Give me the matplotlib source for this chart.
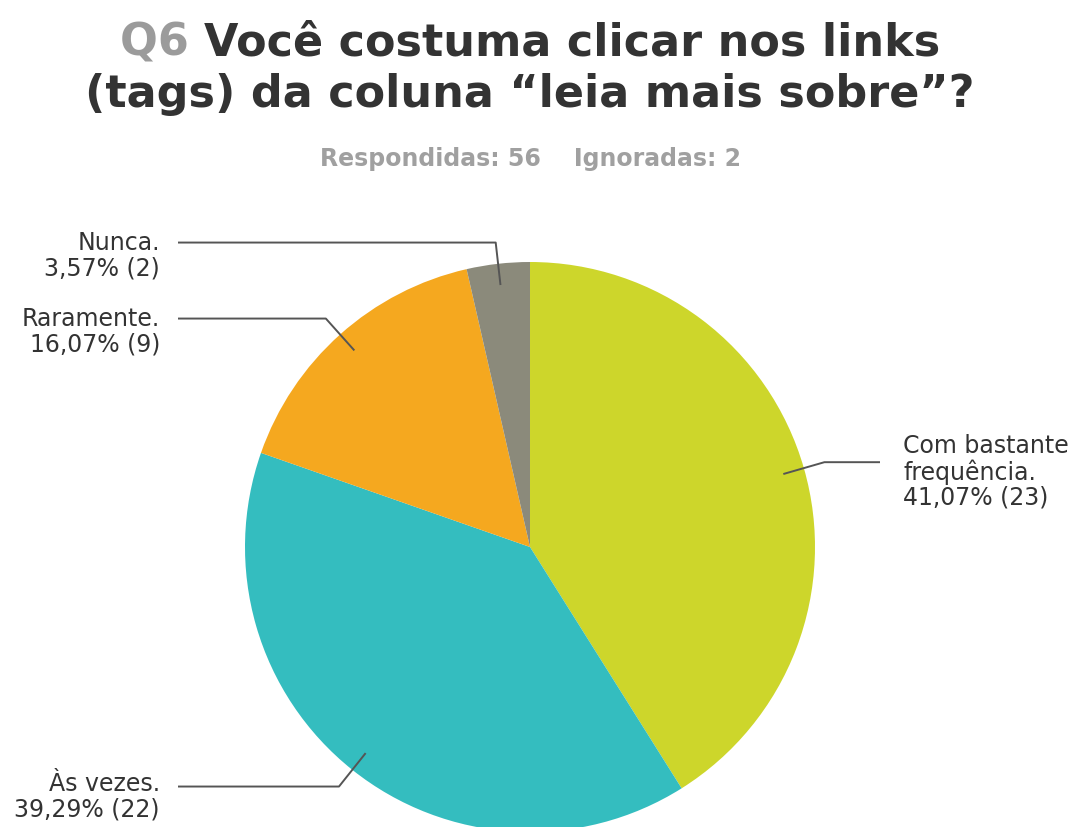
import numpy as np
import matplotlib.pyplot as plt

# Q6 - respostas
categorias = ['Com bastante\nfrequência.', 'Às vezes.', 'Raramente.', 'Nunca.']
respostas = [23, 22, 9, 2]
cores = ['#cdd62b', '#34bdbf', '#f5a81f', '#8b8a7b']
respondidas = 56
ignoradas = 2

W, H = 1074, 827
fig = plt.figure(figsize=(W / 100, H / 100), dpi=100)
ax = fig.add_axes([0, 0, 1, 1])

# centro e raio em pixels (y de baixo para cima)
cx, cy, r = 530, H - 547, 285
wedges, _ = ax.pie(respostas, colors=cores, startangle=90, counterclock=False,
                   center=(cx, cy), radius=r, frame=True,
                   wedgeprops=dict(linewidth=0))
ax.set_xlim(0, W)
ax.set_ylim(0, H)
ax.set_aspect('equal')
ax.axis('off')

total = sum(respostas)
txt_cor = '#333333'
linha_cor = '#555555'

# posição x do texto e deslocamento vertical do bloco de texto
rotulos = {
    0: dict(xt=903, ha='left', dy=-10),
    1: dict(xt=160, ha='right', dy=-10),
    2: dict(xt=160, ha='right', dy=-13),
    3: dict(xt=160, ha='right', dy=-13),
}
for i, w in enumerate(wedges):
    ang = np.deg2rad((w.theta1 + w.theta2) / 2)
    ax_, ay_ = cx + 0.925 * r * np.cos(ang), cy + 0.925 * r * np.sin(ang)
    ex, ey = cx + 1.075 * r * np.cos(ang), cy + 1.075 * r * np.sin(ang)
    info = rotulos[i]
    lx = info['xt'] - 23 if info['ha'] == 'left' else info['xt'] + 18
    ax.plot([ax_, ex, lx], [ay_, ey, ey], color=linha_cor, lw=1.4,
            solid_capstyle='butt')
    pct = 100 * respostas[i] / total
    texto = categorias[i] + '\n' + f"{pct:.2f}".replace('.', ',') + f"% ({respostas[i]})"
    ax.text(info['xt'], ey + info['dy'], texto, ha=info['ha'], va='center',
            fontsize=17, color=txt_cor, linespacing=1.05, family='DejaVu Sans')

# título em duas linhas, "Q6" em cinza
fig.canvas.draw()
rend = fig.canvas.get_renderer()
tkw = dict(fontsize=32, fontweight='bold', family='DejaVu Sans', va='baseline')
linha1_a, linha1_b = 'Q6 ', 'Você costuma clicar nos links'
tmp = ax.text(0, 0, linha1_a + linha1_b, **tkw)
larg = tmp.get_window_extent(rend).width
tmp.remove()
tmp = ax.text(0, 0, linha1_a, **tkw)
larg_a = tmp.get_window_extent(rend).width
tmp.remove()
x0 = 530 - larg / 2
ax.text(x0, H - 56, linha1_a, color='#9b9b9b', ha='left', **tkw)
ax.text(x0 + larg_a, H - 56, linha1_b, color='#333333', ha='left', **tkw)
ax.text(530, H - 107, '(tags) da coluna “leia mais sobre”?', color='#333333',
        ha='center', **tkw)

ax.text(530, H - 159, f'Respondidas: {respondidas}    Ignoradas: {ignoradas}',
        ha='center', va='center', fontsize=17, fontweight='bold',
        color='#a0a0a0', family='DejaVu Sans')

fig.savefig('out.png', dpi=100)
